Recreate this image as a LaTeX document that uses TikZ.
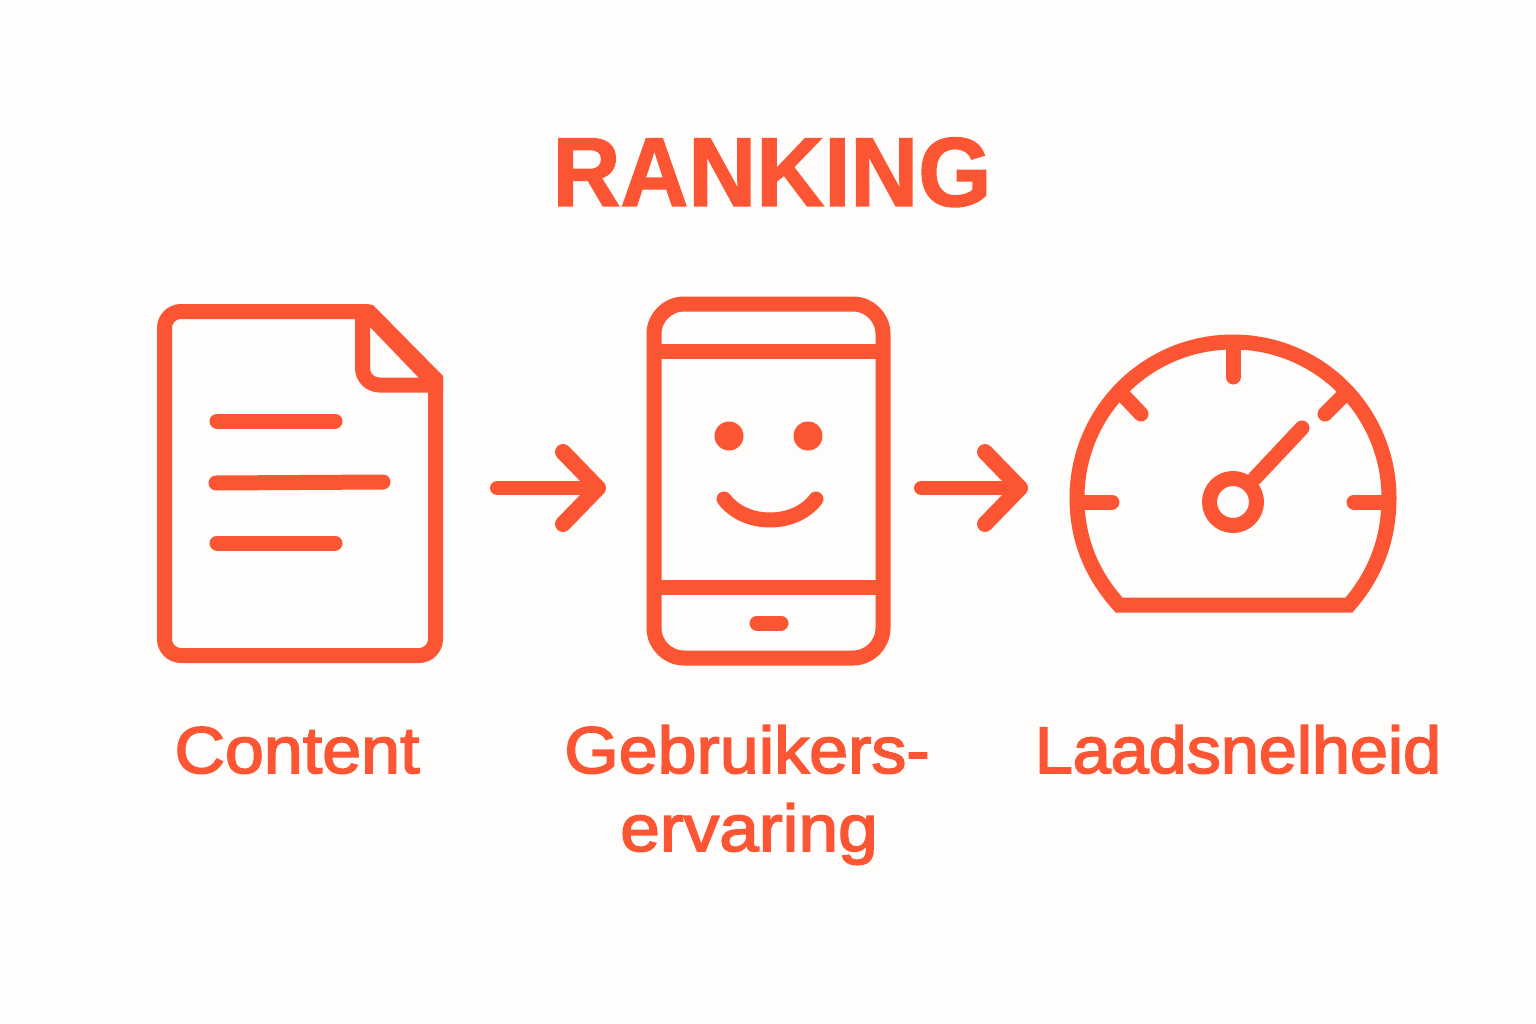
\documentclass[tikz,border=0pt]{standalone}
\usepackage{fontspec}
\usetikzlibrary{arrows.meta}
\setmainfont{Liberation Sans}
\newfontfamily\labelfont{Liberation Sans}[FakeBold=2.5,FakeStretch=1.06]
\newfontfamily\labelfontb{Liberation Sans}[FakeBold=2.5,FakeStretch=1.08]
\newfontfamily\labelfontc{Liberation Sans}[FakeBold=2.5,FakeStretch=1.035]
\newfontfamily\titlefont{Liberation Sans Bold}[FakeBold=1.5,FakeStretch=0.96]
\definecolor{ink}{HTML}{FB5533}
\definecolor{paper}{HTML}{FFFDFB}
\tikzset{
  icon/.style={draw=ink,line width=15pt,line cap=round,line join=round},
  flow/.style={draw=ink,line width=14pt,line cap=round,-{Straight Barb[round,length=35pt,width=72pt,line width=16pt]}},
  label/.style={text=ink,inner sep=0pt,anchor=base,font=\labelfont\fontsize{66}{70}\selectfont},
}
\begin{document}
\begin{tikzpicture}[x=1pt,y=-1pt]
\fill[paper] (0,0) rectangle (1536,1024);
\useasboundingbox (0,0) rectangle (1536,1024);
% title
\node[text=ink,inner sep=0pt,anchor=base,font=\titlefont\fontsize{98}{100}\selectfont] (title) at (772,206) {RANKING};
% document
\draw[icon] (181,311.5) -- (366,311.5) -- (435.5,381) -- (435.5,639) arc[start angle=0,end angle=90,radius=16.5] -- (181,655.5) arc[start angle=90,end angle=180,radius=16.5] -- (164.5,328) arc[start angle=180,end angle=270,radius=16.5] -- cycle;
\draw[icon] (362.5,316) -- (362.5,368) arc[start angle=180,end angle=90,radius=17] -- (432,385);
\fill[ink] (366,304) -- (373,305) -- (443,376) -- (443,392) -- (425,385) -- (418,377) -- (370,327) -- (360,318) -- cycle;
\draw[icon] (217,421) -- (335,421);
\draw[icon] (216,483) -- (383,482);
\draw[icon] (217,543) -- (335,543);
% phone
\draw[icon] (684,304) -- (853,304) arc[start angle=-90,end angle=0,radius=30] -- (883,628) arc[start angle=0,end angle=90,radius=30] -- (684,658) arc[start angle=90,end angle=180,radius=30] -- (654,334) arc[start angle=180,end angle=270,radius=30] -- cycle;
\draw[icon] (656,351) -- (881,351);
\draw[icon] (656,587) -- (881,587);
\draw[icon] (757,623) -- (781,623);
\fill[ink] (729,436) circle (14.5);
\fill[ink] (808,436) circle (14.5);
\draw[icon] (724,499) .. controls (745,527) and (795,527) .. (816,499);
% gauge
\draw[icon,line join=miter] (1119,605) .. controls (1092,575) and (1077,540) .. (1077,498) arc[start angle=180,end angle=360,radius=156] .. controls (1389,540) and (1375,575) .. (1349,605) -- cycle;
\draw[icon] (1233,345) -- (1233,377);
\draw[icon] (1122,394) -- (1141,414);
\draw[icon] (1345,394) -- (1325,414);
\draw[icon] (1082,502) -- (1112,502);
\draw[icon] (1354,502) -- (1385,502);
\draw[icon] (1255,478) -- (1302,428);
\draw[icon] (1233,502) circle (23.5);
% connectors
\coordinate (a1s) at (497,488);
\coordinate (a1e) at (606,488);
\coordinate (a2s) at (921,488);
\coordinate (a2e) at (1028,488);
\draw[flow] (a1s) -- (a1e);
\draw[flow] (a2s) -- (a2e);
% labels
\node[label] (content) at (297,773) {Content};
\node[label] (gebruikers) at (747,773) {Gebruikers-};
\node[label,font=\labelfontb\fontsize{66}{70}\selectfont] (ervaring) at (749,851) {ervaring};
\node[label,font=\labelfontc\fontsize{66}{70}\selectfont] (laad) at (1238,773) {Laadsnelheid};
\end{tikzpicture}
\end{document}
